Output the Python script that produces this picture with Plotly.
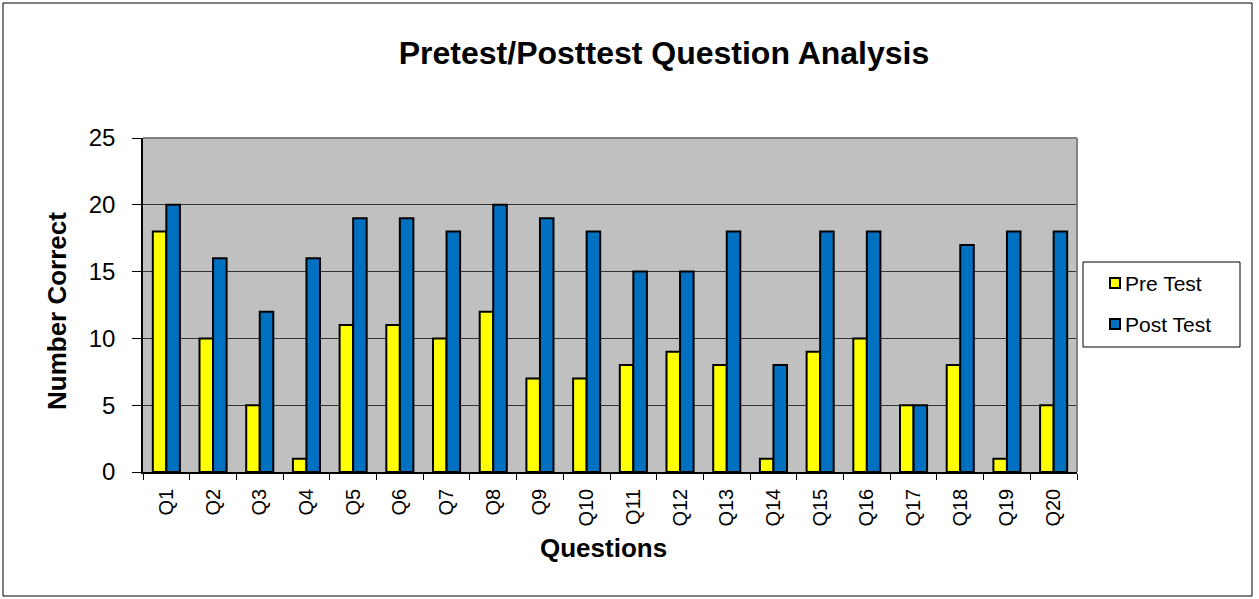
import plotly.graph_objects as go

questions = [f"Q{i}" for i in range(1, 21)]
pre_test = [18, 10, 5, 1, 11, 11, 10, 12, 7, 7, 8, 9, 8, 1, 9, 10, 5, 8, 1, 5]
post_test = [20, 16, 12, 16, 19, 19, 18, 20, 19, 18, 15, 15, 18, 8, 18, 18, 5, 17, 18, 18]
y_ticks = [0, 5, 10, 15, 20, 25]
series_names = ["Pre Test", "Post Test"]
series_colors = ["#FFFF00", "#0070C0"]

W, H = 1259, 599
L, R, T, B = 143, 1077, 138, 472
pw, ph = R - L, B - T


def px_x(x):
    return (x - L) / pw


def px_y(y):
    return (B - y) / ph


fig = go.Figure()
for name, vals, color in zip(series_names, [pre_test, post_test], series_colors):
    fig.add_bar(x=questions, y=vals, name=name,
                marker=dict(color=color, line=dict(color="#000000", width=2)))

# outer chart border
fig.add_shape(type="rect", xref="paper", yref="paper",
              x0=px_x(3), x1=px_x(1252), y0=px_y(596), y1=px_y(3),
              line=dict(color="#000000", width=1), layer="below")
# plot area top/right edges
fig.add_shape(type="line", xref="paper", yref="paper", x0=0, x1=1, y0=1, y1=1,
              line=dict(color="#808080", width=2))
fig.add_shape(type="line", xref="paper", yref="paper", x0=1, x1=1, y0=0, y1=1,
              line=dict(color="#808080", width=2))

# legend box
fig.add_shape(type="rect", xref="paper", yref="paper",
              x0=px_x(1083), x1=px_x(1240), y0=px_y(347), y1=px_y(262),
              line=dict(color="#000000", width=1), fillcolor="white")
for i, (name, color) in enumerate(zip(series_names, series_colors)):
    yc = 283 + i * 41
    fig.add_shape(type="rect", xref="paper", yref="paper",
                  x0=px_x(1110), x1=px_x(1120), y0=px_y(yc + 5), y1=px_y(yc - 5),
                  line=dict(color="#000000", width=2), fillcolor=color)
    fig.add_annotation(text=name, xref="paper", yref="paper",
                       x=px_x(1123), y=px_y(yc), xanchor="left", yanchor="middle",
                       showarrow=False, font=dict(size=21))

# axis titles
fig.add_annotation(text="<b>Number Correct</b>", xref="paper", yref="paper",
                   x=px_x(57), y=px_y(311), textangle=-90, showarrow=False,
                   xanchor="center", yanchor="middle", font=dict(size=26))
fig.add_annotation(text="<b>Questions</b>", xref="paper", yref="paper",
                   x=px_x(603), y=px_y(548), showarrow=False,
                   xanchor="center", yanchor="middle", font=dict(size=26))

fig.update_layout(
    width=W, height=H,
    margin=dict(l=L, r=W - R, t=T, b=H - B),
    paper_bgcolor="white",
    plot_bgcolor="#C0C0C0",
    barmode="group",
    bargap=0.42,
    bargroupgap=0,
    showlegend=False,
    font=dict(family="Arial, Liberation Sans, sans-serif", color="#000000"),
    title=dict(text="<b>Pretest/Posttest Question Analysis</b>",
               x=664 / W, xanchor="center", y=1 - 53 / H, yanchor="middle",
               font=dict(size=32)),
)
fig.update_xaxes(
    tickangle=-90, tickfont=dict(size=20), tickson="boundaries",
    ticks="outside", ticklen=6, tickcolor="#000000",
    showline=True, linecolor="#000000", linewidth=1.5,
    ticklabelstandoff=7,
)
fig.update_yaxes(
    range=[0, 25], tickvals=y_ticks, tickfont=dict(size=24),
    ticks="outside", ticklen=9, tickcolor="#000000",
    showgrid=True, gridcolor="#333333", gridwidth=1,
    showline=True, linecolor="#000000", linewidth=1.5,
    zeroline=False, ticklabelstandoff=12,
)

fig.write_html("out.html", config={"displayModeBar": False},
               post_script="document.body.style.margin='0';")
